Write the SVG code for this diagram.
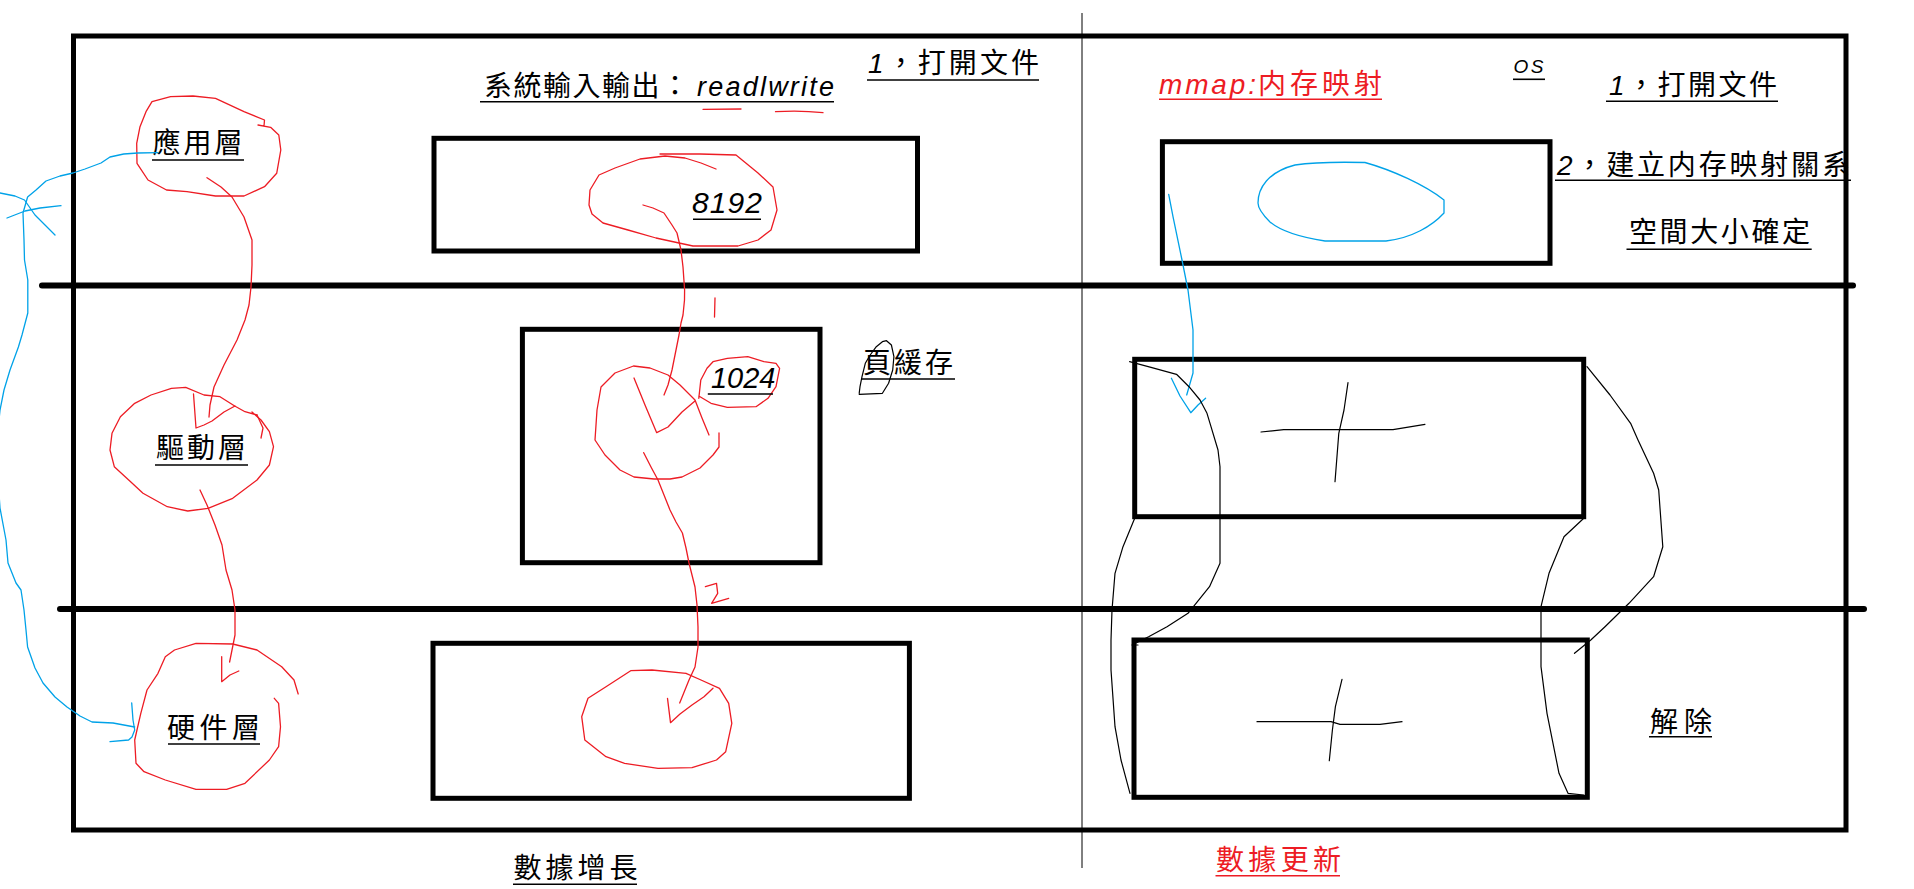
<svg xmlns="http://www.w3.org/2000/svg" width="1914" height="889" viewBox="0 0 1914 889">
<style>
.bg{fill:#fff}
.frame{fill:none;stroke:#000;stroke-width:5;stroke-linecap:square}
.div{stroke:#000;stroke-width:6;stroke-linecap:round}
.thin{stroke:#000;stroke-width:1}
.box{fill:none;stroke:#000;stroke-width:5}
.ul{stroke:#000;stroke-width:1.6}
.ulr{stroke:#ED1C24;stroke-width:1.6}
.cj{font-family:"Liberation Sans","Noto Sans CJK TC","Noto Sans CJK SC",sans-serif;font-size:28px;fill:#000}
.it{font-family:"Liberation Sans","Noto Sans CJK TC",sans-serif;font-style:italic;fill:#000}
.red{fill:#ED1C24}
.rd{fill:none;stroke:#ED1C24;stroke-width:1.3;stroke-linejoin:round;stroke-linecap:round}
.bl{fill:none;stroke:#00A2E8;stroke-width:1.3;stroke-linejoin:round;stroke-linecap:round}
.bk{fill:none;stroke:#000;stroke-width:1.2;stroke-linejoin:round;stroke-linecap:round}
</style>
<rect class="bg" x="0" y="0" width="1914" height="889"/>

<!-- structure -->
<line class="thin" x1="1082" y1="13" x2="1082" y2="868"/>
<rect class="frame" x="73.5" y="36" width="1772.5" height="794"/>
<line class="div" x1="42" y1="285.5" x2="1853" y2="285.5"/>
<line class="div" x1="60" y1="609" x2="1864" y2="609"/>

<!-- titles -->
<g id="title-left">
<text class="cj" x="484" y="96" textLength="205">系統輸入輸出：</text>
<text class="it" x="697" y="96" font-size="27" textLength="137">readlwrite</text>
<line class="ul" x1="480" y1="101.7" x2="834" y2="101.7"/>
<path class="rd" d="M703,109.3 L741,109 M775.5,111.7 Q800,110 823,112.7"/>
</g>
<g id="step1-left">
<text class="cj" x="868" y="73" font-size="29" textLength="171"><tspan font-style="italic">1</tspan>，打開文件</text>
<line class="ul" x1="867" y1="80" x2="1039" y2="80"/>
</g>
<g id="title-right">
<text class="it red" x="1159" y="94" font-size="28" textLength="97">mmap:</text>
<text class="cj red" x="1258" y="94" font-size="29" textLength="124">内存映射</text>
<line class="ulr" x1="1159" y1="99.3" x2="1382" y2="99.3"/>
</g>
<g id="os">
<text class="it" x="1513.5" y="72.7" font-size="19" textLength="30">OS</text>
<line class="ul" x1="1513" y1="79.3" x2="1545" y2="79.3"/>
</g>
<g id="step1-right">
<text class="cj" x="1609" y="95" font-size="29" textLength="168"><tspan font-style="italic">1</tspan>，打開文件</text>
<line class="ul" x1="1606" y1="101.3" x2="1778" y2="101.3"/>
</g>
<g id="step2-right">
<text class="cj" x="1557" y="175" font-size="29" textLength="293"><tspan font-style="italic">2</tspan>，建立内存映射關系</text>
<line class="ul" x1="1555" y1="180.3" x2="1851" y2="180.3"/>
</g>
<g id="size-fixed">
<text class="cj" x="1629" y="241.5" font-size="29" textLength="181">空間大小確定</text>
<line class="ul" x1="1626.5" y1="249.3" x2="1811.7" y2="249.3"/>
</g>

<!-- layer nodes -->
<g id="app-layer">
<path class="rd" d="M264,126 L264.5,120 L244,111.7 L215.5,98.3 L193,96 L170.6,96.7 L152,101.7 L146,111.7 L140,126.7 L136.7,143.3 L137,163.3 L148,180 L166.5,190 L187,191.7 L215.5,196 L244,196 L264.5,186.7 L276.7,173.3 L280.8,150 L278.8,135 L270.6,127.3 L258,125"/>
<text class="cj" x="152.5" y="153" textLength="90">應用層</text>
<line class="ul" x1="152" y1="160" x2="244" y2="160"/>
</g>
<g id="driver-layer">
<path class="rd" d="M257,415 L245,411.7 L234.7,406 L220,396.7 L204,395 L185.7,387.3 L171.4,388.3 L151,395 L134.7,403.3 L120.4,416.7 L112,433.3 L110,450 L114.3,466.7 L130.6,481.7 L143,493.3 L167.3,506.7 L187.8,511 L208,508.3 L232.7,498.3 L257,480 L269.4,465 L273.5,446.7 L269.4,431.7 L261,420 L252,412"/>
<path class="rd" d="M257,415 L263,428 L261,438"/>
<text class="cj" x="156" y="458" textLength="90">驅動層</text>
<line class="ul" x1="155" y1="465" x2="248" y2="465"/>
</g>
<g id="hw-layer">
<path class="rd" d="M298.2,694 L294,680 L281.7,666.7 L257,650 L232.7,644 L196,643.3 L174.5,650 L165.3,656.7 L158,673.3 L147,690 L140.8,713.3 L134.7,740 L136,763.3 L144,771.7 L165.3,780 L196,789.3 L226.6,789.3 L245,783.3 L269.4,760 L278.6,746.7 L280.5,726.7 L278.6,703.3 L274.3,698.3"/>
<text class="cj" x="167" y="738" textLength="93">硬件層</text>
<line class="ul" x1="168" y1="744" x2="260" y2="744"/>
</g>

<!-- left data boxes -->
<g id="user-buffer">
<rect class="box" x="434" y="138.3" width="483.5" height="112.7"/>
<path class="rd" d="M716,169 L701,163 L685,158 L665,156 L640,159 L615,168 L599,175 L590,190 L589,205 L592,214 L603,223 L628,230 L656,238 L679,243 L693,246 L738,246 L758,240 L771,230 L777,210 L773,187 L758,173 L736,155 L700,154 L660,154"/>
<text class="it" x="692" y="213" font-size="30" textLength="70">8192</text>
<line class="ul" x1="693" y1="219.3" x2="761" y2="219.3"/>
</g>
<g id="page-cache">
<rect class="box" x="522.4" y="329.3" width="297.6" height="233.4"/>
<path class="rd" d="M709,435 L702,418 L695,400 L680,385 L668,375 L650,368 L633.5,366 L615,373 L601,387 L597,410 L595,440 L605,455 L620,470 L634,477 L654,479 L670,479 L682,477 L700,468 L713,455 L719,447 L719,433"/>
<path class="rd" d="M698.8,398.3 L700.8,380 L707,368.3 L713,361.7 L727.3,358.3 L747.8,356.7 L764,361.7 L776,363.3 L779.6,368.3 L776,386.7 L768,398.3 L756,406.7 L727.3,407.3 L711,403.3 L698.8,396"/>
<text class="it" x="711" y="388" font-size="29" textLength="64.5">1024</text>
<line class="ul" x1="707.8" y1="394" x2="773" y2="394"/>
<text class="cj" x="863" y="373" textLength="90">頁緩存</text>
<line class="ul" x1="861" y1="379" x2="955" y2="379"/>
<path class="bk" d="M859.2,394.3 L882.4,393.3 L888.6,383.3 L892.7,370 L893.9,356.7 L891.4,345 L886.5,340.7 L882.4,341.7 L876.3,346.7 L870.2,355 L865.3,363.3 L862,376.7 L860,386.7 L859.2,393.3"/>
</g>
<g id="disk-block">
<rect class="box" x="433" y="643.3" width="476.4" height="155"/>
<path class="rd" d="M686,673.3 L652,670 L630.7,670.7 L606,686.7 L588,698.3 L581.7,716.7 L584.8,740 L606,756.7 L624.6,763.3 L658,768.3 L692,767.7 L716.5,760 L725.7,751.7 L731.8,723.3 L728.7,703.3 L719.5,688.3 L701,680 L686,673.3"/>
</g>

<!-- right mmap boxes -->
<g id="mmap-user">
<rect class="box" x="1162.4" y="141.7" width="387.6" height="121.6"/>
<path class="bl" d="M1258,203 C1258,188 1268,172 1295,165 C1315,162 1345,162 1365,162.5 C1392,170 1425,185 1444,200 L1444,213 C1432,226 1412,238 1386,241 L1325,241 C1305,238 1282,232 1270,222 C1262,214 1258,208 1258,203 Z"/>
</g>
<g id="mmap-cache">
<rect class="box" x="1134.7" y="359.3" width="449" height="157.4"/>
<path class="bk" d="M1261,432 L1283.7,429.7 L1393,429.7 L1425,424.3 M1348,382.7 L1344,410 L1338.8,433.3 L1335,481.7"/>
</g>
<g id="mmap-disk">
<rect class="box" x="1134" y="640" width="453.3" height="157.3"/>
<path class="bk" d="M1257,721.7 L1331,721.7 L1340,724.3 L1380,724.3 L1402,721.7 M1342,679.3 L1335.4,706.7 L1332.4,730 L1329.3,760.7"/>
</g>
<g id="release">
<text class="cj" x="1650" y="731.5" textLength="62">解除</text>
<line class="ul" x1="1649" y1="736.7" x2="1712" y2="736.7"/>
</g>

<!-- bottom captions -->
<g id="caption-left">
<text class="cj" x="513.5" y="878" textLength="124">數據增長</text>
<line class="ul" x1="513" y1="884.3" x2="637" y2="884.3"/>
</g>
<g id="caption-right">
<text class="cj red" x="1216" y="870" textLength="125">數據更新</text>
<line class="ulr" x1="1215.5" y1="875.7" x2="1340" y2="875.7"/>
</g>

<!-- connectors -->
<g id="connectors">
<path class="rd" d="M207,177.7 L221,187 L232,197 L244,217 L252,240 L252,265 L251,287 L249,305 L245,320 L237,340 L224,365 L214,387 L210,405 L209,417"/>
<path class="rd" d="M193.5,394 L196,428 L204,425 L212,421 L224,412 L235,406"/>
<path class="rd" d="M200,490 L207,505 L215,525 L222,545 L226,570 L232,590 L235,610 L235,635 L232,650 L229.6,662"/>
<path class="rd" d="M221.7,656.7 L221.7,681.7 L230,675 L238.8,671"/>
<path class="rd" d="M643,205 L653,208 L664,213 L672,225 L677,233 L681,250 L683,267 L684.6,290 L684.5,300 L683,315 L681,323 L679,335 L676,350 L672,370 L668,385 L664,395"/>
<path class="rd" d="M634,378 L645,405 L656.7,432.7 L668,427 L682,412 L695,401"/>
<path class="rd" d="M715,298 L714.5,317"/>
<path class="rd" d="M643.7,452.7 L651,467 L658,480 L664,495 L670,510 L676,522 L682.4,533 L686,548 L689,563 L692,575 L695,587 L697,605 L698,627 L698,647 L695,667 L689,680 L679.7,703"/>
<path class="rd" d="M667.5,698.3 L670.5,722.7 L680,714 L692,705 L704,696.7 L713,688.3"/>
<path class="rd" d="M705.4,586.7 L716.5,583.3 L717.7,593.3 L711.6,603.3 L728.7,598.3"/>
<path class="bl" d="M158,152.7 L137.8,153 L123.7,154 L110,157 L101,163 L85,169 L73,173 L60,176 L46,181 L36,190 L27.6,197 L23,213 L24,240 L24.5,260 L27.8,280 L27.8,313 L22,335 L18.4,347 L10,370 L4,390 L0,410 L-3,440 L-2,480 L0,508 L6,540 L8,563 L16,583 L21,590 L24,610 L26,630 L27.6,647 L35,668 L43,683 L55,697 L67,707 L80,716 L92,722 L113,723 L134.7,727"/>
<path class="bl" d="M131.7,703 L133,720 L134.7,730 L132,737 L128.6,740 L110,741.7"/>
<path class="bl" d="M0,193 L15,196 L24.5,200 L35,215 L45,225 L55,235 M7,218 L25,211 L40,208 L61,205.7"/>
<path class="bl" d="M1168.7,194.3 L1173,216.7 L1182,260 L1188,290 L1193,330 L1193,373 L1186.7,395"/>
<path class="bl" d="M1171.4,378.3 L1180,396 L1190.8,412.7 L1198,405 L1205.6,398.3"/>
<path class="bk" d="M1129.6,361.7 L1151,367.3 L1176.5,374.3 L1189,386.7 L1200,400 L1207,413.3 L1211,426.7 L1218,450 L1220,466.7 L1220,563.3 L1209.5,586.7 L1188,613.3 L1167,626.7 L1148.6,636.7 L1132,645 L1138,645"/>
<path class="bk" d="M1134.7,518.3 L1123,546.7 L1115,573.3 L1112,610 L1111,640 L1111,670 L1115,726.7 L1121,760 L1130,793.3"/>
<path class="bk" d="M1583,519 L1564,536.7 L1549,573.3 L1541,606.7 L1541,666.7 L1547,713.3 L1559,773.3 L1568,793.3 L1583.6,795"/>
<path class="bk" d="M1587,366.7 L1610,395 L1630.6,423.3 L1638,440 L1653.6,473.3 L1658.7,490 L1662.8,546.7 L1653.6,576.7 L1629,603.3 L1605,626.7 L1590.8,640 L1574.5,653.3"/>
</g>
</svg>
